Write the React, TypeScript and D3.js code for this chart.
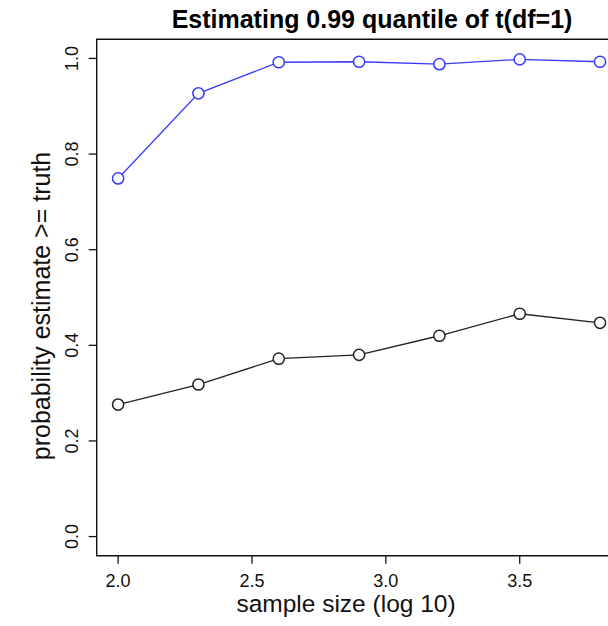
import React from "react";
import * as d3 from "d3";

const sampleSizeLog10 = [2.0, 2.3, 2.6, 2.9, 3.2, 3.5, 3.8];
const blueSeries = [0.749, 0.927, 0.992, 0.993, 0.988, 0.998, 0.993];
const blackSeries = [0.276, 0.318, 0.372, 0.38, 0.42, 0.466, 0.447];
const xTicks = [2.0, 2.5, 3.0, 3.5];
const yTicks = [0.0, 0.2, 0.4, 0.6, 0.8, 1.0];
const title = "Estimating 0.99 quantile of t(df=1)";
const xLabel = "sample size (log 10)";
const yLabel = "probability estimate >= truth";

const W = 608;
const H = 626;
const left = 96.7;
const right = 675;
const top = 39.3;
const bottom = 555.7;

export default function App() {
  const x = d3.scaleLinear().domain([1.92, 4.08]).range([left, right]);
  const y = d3.scaleLinear().domain([-0.04, 1.04]).range([bottom, top]);
  const line = d3
    .line<[number, number]>()
    .x((d) => x(d[0]))
    .y((d) => y(d[1]));
  const blue = sampleSizeLog10.map((v, i) => [v, blueSeries[i]] as [number, number]);
  const black = sampleSizeLog10.map((v, i) => [v, blackSeries[i]] as [number, number]);
  const font = "Liberation Sans, Arial, sans-serif";
  const blueCol = "#3a3aff";

  return (
    <svg
      width={W}
      height={H}
      style={{ position: "absolute", left: 0, top: 0, background: "#fff" }}
      fontFamily={font}
    >
      <rect x={0} y={0} width={W} height={H} fill="#fff" />
      <text x={372} y={28} textAnchor="middle" fontWeight="bold" fontSize={25} fill="#000">
        {title}
      </text>
      {/* box */}
      <path
        d={`M${right},${top}H${left}V${bottom}H${right}`}
        fill="none"
        stroke="#111"
        strokeWidth={1.4}
      />
      {/* x ticks */}
      {xTicks.map((t) => (
        <g key={"x" + t}>
          <line x1={x(t)} x2={x(t)} y1={bottom} y2={bottom + 8} stroke="#111" strokeWidth={1.3} />
          <text x={x(t)} y={587} textAnchor="middle" fontSize={18} fill="#111">
            {t.toFixed(1)}
          </text>
        </g>
      ))}
      {/* y ticks */}
      {yTicks.map((t) => (
        <g key={"y" + t}>
          <line x1={left - 8} x2={left} y1={y(t)} y2={y(t)} stroke="#111" strokeWidth={1.3} />
          <text
            transform={`translate(78,${y(t)}) rotate(-90)`}
            textAnchor="middle"
            fontSize={18}
            fill="#111"
          >
            {t.toFixed(1)}
          </text>
        </g>
      ))}
      <text x={346} y={612} textAnchor="middle" fontSize={24.5} fill="#111">
        {xLabel}
      </text>
      <text
        transform={`translate(50,306) rotate(-90)`}
        textAnchor="middle"
        fontSize={25}
        fill="#111"
      >
        {yLabel}
      </text>
      {/* series */}
      <path d={line(blue) || ""} fill="none" stroke={blueCol} strokeWidth={1.3} />
      {blue.map((d, i) => (
        <circle key={"b" + i} cx={x(d[0])} cy={y(d[1])} r={5.6} fill="#fff" stroke={blueCol} strokeWidth={1.5} />
      ))}
      <path d={line(black) || ""} fill="none" stroke="#222" strokeWidth={1.3} />
      {black.map((d, i) => (
        <circle key={"k" + i} cx={x(d[0])} cy={y(d[1])} r={5.6} fill="#fff" stroke="#222" strokeWidth={1.5} />
      ))}
    </svg>
  );
}
